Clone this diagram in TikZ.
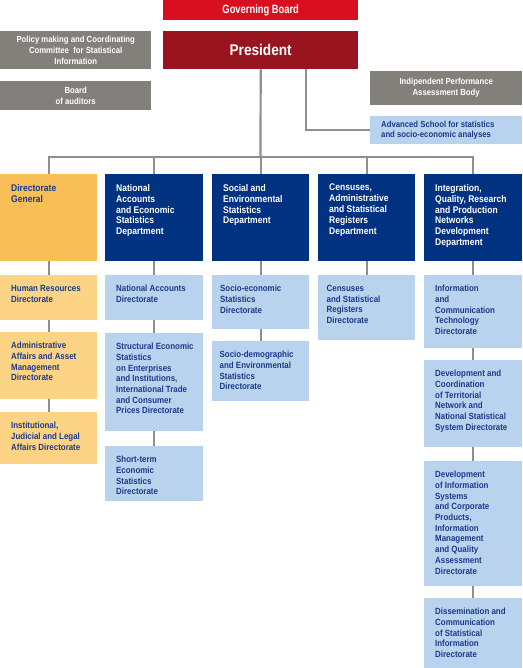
\documentclass[tikz,border=0pt]{standalone}
\usepackage{fontspec}
\setmainfont{Liberation Sans}[FakeStretch=0.88]
\newfontfamily\gbfont{Liberation Sans}[FakeStretch=0.78]
\definecolor{gbred}{HTML}{D80F1E}
\definecolor{presred}{HTML}{98151F}
\definecolor{grayb}{HTML}{83807C}
\definecolor{dblue}{HTML}{003282}
\definecolor{lblue}{HTML}{B9D3EE}
\definecolor{orgd}{HTML}{F9BF57}
\definecolor{orgl}{HTML}{FDD486}
\definecolor{tblue}{HTML}{1B3A8A}
\definecolor{conn}{HTML}{8E8E8E}
\tikzset{
  box/.style={draw=none, inner sep=0pt, anchor=north west},
  gbox/.style={box, fill=grayb, text=white, align=center, font=\fontsize{8.8}{11}\selectfont\bfseries},
  dbox/.style={box, fill=dblue},
  obox/.style={box, fill=orgd},
  lbox/.style={box, fill=lblue},
  lobox/.style={box, fill=orgl},
  txt/.style={anchor=north west, inner sep=0pt, align=left},
  subtxt/.style={txt, text=tblue, font=\fontsize{9}{10.7}\selectfont\bfseries},
  depttxt/.style={txt, text=white, font=\fontsize{9.7}{10.9}\selectfont\bfseries},
  link/.style={draw=conn, line width=2.2pt},
}
% #1 name, #2 box style, #3 x, #4 y, #5 w, #6 h, #7 text style, #8 text
\newcommand\orgbox[8]{%
  \node[#2, minimum width=#5, minimum height=#6] (#1) at (#3,#4) {};
  \node[#7] (#1-t) at ([shift={(11pt,-10pt)}]#1.north west) {#8};
}
\begin{document}
\begin{tikzpicture}[x=1pt,y=-1pt]
\useasboundingbox (0,0) rectangle (522,668);
% top level
\node[box, fill=gbred, minimum width=195, minimum height=20, text=white,
  font=\gbfont\fontsize{12}{14}\selectfont\bfseries] (gov) at (163,0) {Governing Board};
\node[box, fill=presred, minimum width=195, minimum height=38, text=white,
  font=\fontsize{15.5}{18}\selectfont\bfseries] (pres) at (163,31) {President};
\node[gbox, minimum width=151, minimum height=38] (policy) at (0,31)
  {Policy making and Coordinating\\Committee\ \ for Statistical\\Information};
\node[gbox, minimum width=151, minimum height=29] (audit) at (0,81) {Board\\of auditors};
\node[gbox, minimum width=152, minimum height=34] (ipab) at (370,71)
  {Indipendent Performance\\Assessment Body};
\node[lbox, minimum width=152, minimum height=28] (adv) at (370,116) {};
\node[anchor=west, inner sep=0pt, align=left, text=tblue, font=\fontsize{8.8}{10.7}\selectfont\bfseries]
  (adv-t) at ([xshift=11pt]adv.west) {Advanced School for statistics\\and socio-economic analyses};
% departments
\orgbox{dg}{obox}{0}{174}{97}{87}{depttxt, text=tblue}{Directorate\\General}
\orgbox{nae}{dbox}{105}{174}{98}{87}{depttxt}{National\\Accounts\\and Economic\\Statistics\\Department}
\orgbox{see}{dbox}{212}{174}{97}{87}{depttxt}{Social and\\Environmental\\Statistics\\Department}
\orgbox{cas}{dbox}{318}{174}{97}{87}{depttxt}{Censuses,\\Administrative\\and Statistical\\Registers\\Department}
\orgbox{iqr}{dbox}{424}{174}{98}{87}{depttxt}{Integration,\\Quality, Research\\and Production\\Networks\\Development\\Department}
% column 1
\orgbox{hr}{lobox}{0}{275}{97}{45}{subtxt}{Human Resources\\Directorate}
\orgbox{aaa}{lobox}{0}{332}{97}{67}{subtxt}{Administrative\\Affairs and Asset\\Management\\Directorate}
\orgbox{ijl}{lobox}{0}{412}{97}{52}{subtxt}{Institutional,\\Judicial and Legal\\Affairs Directorate}
% column 2
\orgbox{na}{lbox}{105}{275}{98}{45}{subtxt}{National Accounts\\Directorate}
\orgbox{ses}{lbox}{105}{333}{98}{98}{subtxt}{Structural Economic\\Statistics\\on Enterprises\\and Institutions,\\International Trade\\and Consumer\\Prices Directorate}
\orgbox{stes}{lbox}{105}{446}{98}{55}{subtxt}{Short-term\\Economic\\Statistics\\Directorate}
% column 3
\orgbox{sesd}{lbox}{212}{275}{97}{54}{subtxt, xshift=-3pt}{Socio-economic\\Statistics\\Directorate}
\orgbox{sdes}{lbox}{212}{341}{97}{60}{subtxt, xshift=-3.5pt}{Socio-demographic\\and Environmental\\Statistics\\Directorate}
% column 4
\orgbox{csr}{lbox}{318}{275}{97}{65}{subtxt, xshift=-2.5pt}{Censuses\\and Statistical\\Registers\\Directorate}
% column 5
\orgbox{ict}{lbox}{424}{275}{98}{73}{subtxt}{Information\\and\\Communication\\Technology\\Directorate}
\orgbox{dct}{lbox}{424}{360}{98}{87}{subtxt}{Development and\\Coordination\\of Territorial\\Network and\\National Statistical\\System Directorate}
\orgbox{dis}{lbox}{424}{461}{98}{125}{subtxt}{Development\\of Information\\Systems\\and Corporate\\Products,\\Information\\Management\\and Quality\\Assessment\\Directorate}
\orgbox{dsc}{lbox}{424}{598}{98}{70}{subtxt}{Dissemination and\\Communication\\of Statistical\\Information\\Directorate}
% connectors
\coordinate (bar) at (260.5,157);
\draw[link] (pres.south) -- (bar);
\draw[link] ([xshift=45pt]pres.south) |- (adv.west);
\foreach \d in {dg,nae,see,cas,iqr} { \draw[link] (bar) -| (\d.north); }
\draw[link] (dg.south) -- (hr.north);
\draw[link] (hr.south) -- (aaa.north);
\draw[link] (aaa.south) -- (ijl.north);
\draw[link] (nae.south) -- (na.north);
\draw[link] (na.south) -- (ses.north);
\draw[link] (ses.south) -- (stes.north);
\draw[link] (see.south) -- (sesd.north);
\draw[link] (sesd.south) -- (sdes.north);
\draw[link] (cas.south) -- (csr.north);
\draw[link] (iqr.south) -- (ict.north);
\draw[link] (ict.south) -- (dct.north);
\draw[link] (dct.south) -- (dis.north);
\draw[link] (dis.south) -- (dsc.north);
\end{tikzpicture}
\end{document}
